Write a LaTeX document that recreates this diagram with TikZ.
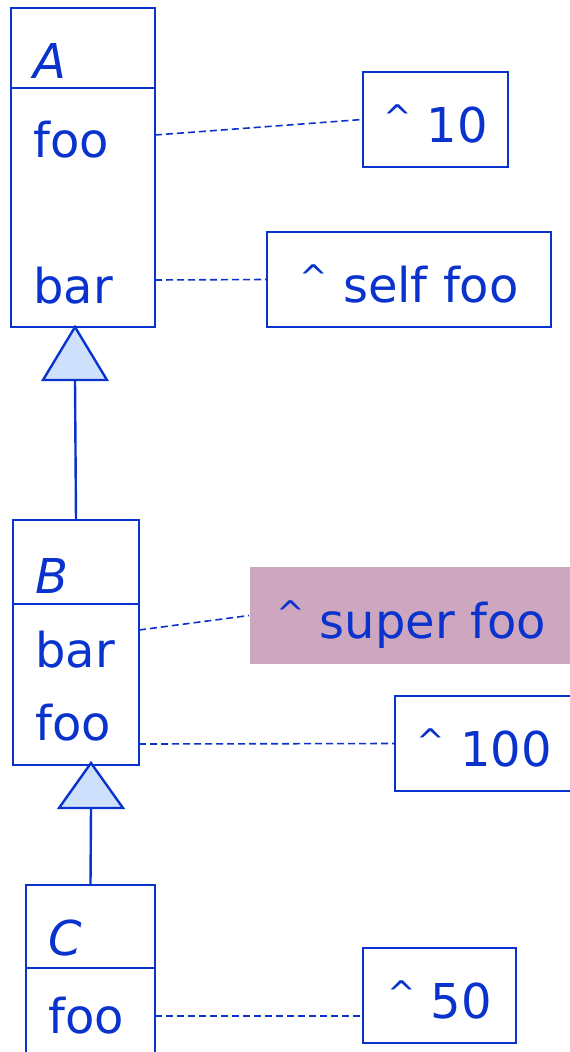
\documentclass[tikz,border=0pt]{standalone}
\usepackage{fontspec}
\setmainfont{DejaVu Sans}
\usetikzlibrary{positioning}

\definecolor{umlblue}{RGB}{10,50,205}
\definecolor{triblue}{RGB}{206,225,252}
\definecolor{notepink}{RGB}{205,167,192}

% small raised caret for return statements
\newcommand{\ret}{\raisebox{13pt}{\fontsize{34}{40}\selectfont\textasciicircum}}

\begin{document}
\begin{tikzpicture}[
  x=1pt, y=-1pt,
  every node/.style = {font=\fontsize{48}{56}\selectfont, text=umlblue},
  cls/.style = {draw=umlblue, line width=2.4pt, inner sep=0pt, outer sep=0pt},
  member/.style = {anchor=base west, inner sep=0pt},
  clsname/.style = {member, font=\fontsize{48}{56}\selectfont\itshape},
  note/.style = {draw=umlblue, line width=2pt, minimum height=95pt, inner sep=0pt,
                 text height=46pt, text depth=0pt},
  link/.style = {draw=umlblue, line width=1.6pt, dash pattern=on 7pt off 4pt},
  inherit/.style = {draw=umlblue, line width=2.4pt, fill=triblue, line join=miter},
  edge/.style = {draw=umlblue, line width=2.4pt}
]
\clip (0,0) rectangle (570,1052);

% --- class A
\node[cls, minimum width=144pt, minimum height=80pt] (A) at (83,48) {};
\node[cls, minimum width=144pt, minimum height=239pt, below=0pt of A] (Abody) {};
\node[clsname] (Aname) at (33,78) {A};
\node[member] (Afoo) at (33,157) {foo};
\node[member] (Abar) at (33,303) {bar};
\coordinate (Afoo-p) at (155,135);
\coordinate (Abar-p) at (155,280);

% --- class B
\node[cls, minimum width=126pt, minimum height=84pt] (B) at (76,562) {};
\node[cls, minimum width=126pt, minimum height=161pt, below=0pt of B] (Bbody) {};
\node[clsname] (Bname) at (35,593) {B};
\node[member] (Bbar) at (35,667) {bar};
\node[member] (Bfoo) at (35,740) {foo};
\coordinate (Bbar-p) at (139,630);
\coordinate (Bfoo-p) at (139,744);

% --- class C
\node[cls, minimum width=129pt, minimum height=83pt] (C) at (90.5,926.5) {};
\node[cls, minimum width=129pt, minimum height=110pt, below=0pt of C] (Cbody) {};
\node[clsname] (Cname) at (48,955) {C};
\node[member] (Cfoo) at (48,1033) {foo};
\coordinate (Cfoo-p) at (155,1016);

% --- inheritance
\draw[inherit] (75,327) -- (107,380) -- (43,380) -- cycle;
\coordinate (AB-base) at (75,380);
\draw[edge] (AB-base) -- (B.north);
\draw[inherit] (91,763) -- (123,808) -- (59,808) -- cycle;
\coordinate (BC-base) at (91,808);
\draw[edge] (BC-base) -- (C.north);

% --- method bodies
\node[note, minimum width=145pt] (ten) at (435.5,119.5) {\ret{} 10};
\node[note, minimum width=284pt] (selffoo) at (409,279.5) {\ret{} self foo};
\node[note, draw=none, fill=notepink, minimum width=322pt, minimum height=97pt] (superfoo) at (411,615.5) {\ret{} super foo};
\node[note, minimum width=178pt] (hundred) at (484,743.5) {\ret{} 100};
\node[note, minimum width=153pt] (fifty) at (439.5,995.5) {\ret{} 50};

\draw[link] (Afoo-p) -- (ten.west);
\draw[link] (Abar-p) -- (selffoo.west);
\draw[link] (Bbar-p) -- (superfoo.west);
\draw[link] (Bfoo-p) -- (hundred.west);
\draw[link] (Cfoo-p) -- (Cfoo-p -| fifty.west);

\end{tikzpicture}
\end{document}
